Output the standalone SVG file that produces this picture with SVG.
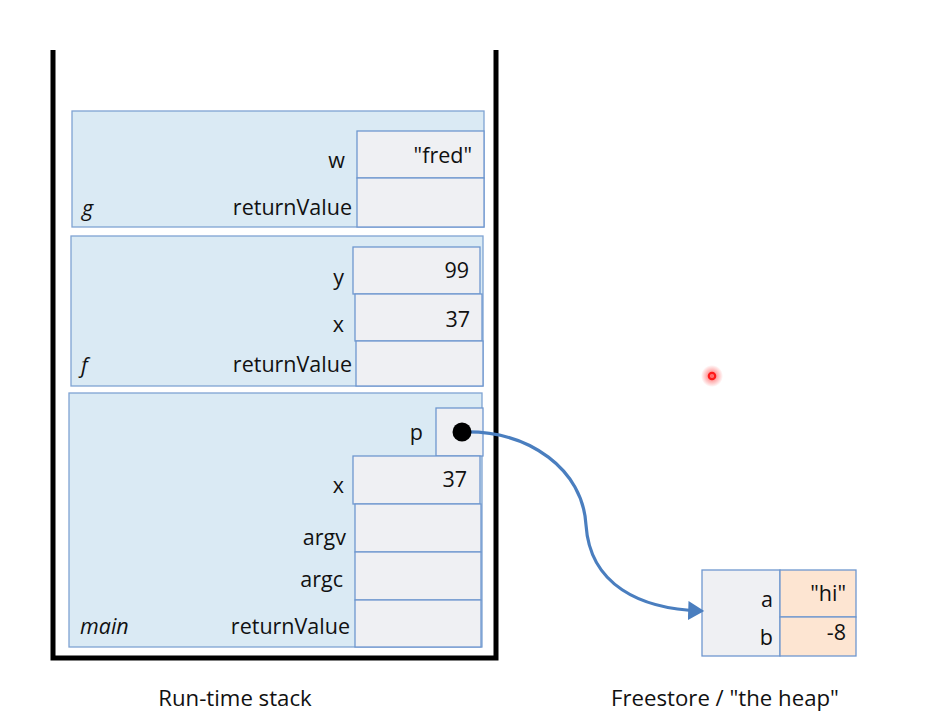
<svg xmlns="http://www.w3.org/2000/svg" width="948" height="727" viewBox="0 0 948 727">
<style>
.frame{fill:#daeaf4;stroke:#7fa3d3;stroke-width:1.3}
.cell{fill:#eff0f3;stroke:#6f97cf;stroke-width:1.3}
.hcell{fill:#fde5d2;stroke:#6f97cf;stroke-width:1.3}
text{font-family:"Open Sans","Liberation Sans",sans-serif;font-size:21.5px;fill:#111}
.r{text-anchor:end}
.i{font-style:italic}
.cap{font-size:22.2px;text-anchor:middle}
</style>
<defs>
<marker id="ah" markerWidth="6" markerHeight="6" refX="4" refY="3" orient="auto" markerUnits="strokeWidth">
<path d="M0,0 L5,3 L0,6 z" fill="#4a7ebf"/>
</marker>
<radialGradient id="glow">
<stop offset="0" stop-color="#ff2020" stop-opacity="0.7"/>
<stop offset="1" stop-color="#ff2020" stop-opacity="0"/>
</radialGradient>
</defs>
<rect width="948" height="727" fill="#ffffff"/>
<g id="stack">
<path d="M53,50 L53,658 L496,658 L496,50" fill="none" stroke="#000" stroke-width="5"/>
</g>
<g id="frame-g">
<rect class="frame" x="72" y="111" width="412" height="116"/>
<rect class="cell" x="357" y="131" width="127" height="47"/>
<rect class="cell" x="357" y="178" width="127" height="49"/>
<text class="r" x="345" y="168">w</text>
<text class="r" x="472" y="163">"fred"</text>
<text class="r" x="352" y="215">returnValue</text>
<text class="i" x="82" y="216">g</text>
</g>
<g id="frame-f">
<rect class="frame" x="71" y="236" width="412" height="150"/>
<rect class="cell" x="353" y="247" width="127" height="47"/>
<rect class="cell" x="355" y="294" width="127" height="47"/>
<rect class="cell" x="356" y="341" width="127" height="45"/>
<text class="r" x="344" y="285">y</text>
<text class="r" x="469" y="278">99</text>
<text class="r" x="344" y="332">x</text>
<text class="r" x="470" y="327">37</text>
<text class="r" x="352" y="372">returnValue</text>
<text class="i" x="81" y="373">f</text>
</g>
<g id="frame-main">
<rect class="frame" x="69" y="393" width="413" height="254"/>
<rect class="cell" x="436" y="408" width="47" height="48"/>
<rect class="cell" x="353" y="456" width="127" height="48"/>
<rect class="cell" x="355" y="504" width="126" height="48"/>
<rect class="cell" x="355" y="552" width="126" height="48"/>
<rect class="cell" x="355" y="600" width="126" height="47"/>
<text class="r" x="423" y="440">p</text>
<text class="r" x="344" y="493">x</text>
<text class="r" x="467" y="487">37</text>
<text class="r" x="346" y="545">argv</text>
<text class="r" x="343" y="587">argc</text>
<text class="r" x="350" y="634">returnValue</text>
<text class="i" x="80" y="634">main</text>
</g>
<g id="heap-obj">
<rect class="cell" x="702" y="570" width="78" height="86"/>
<rect class="hcell" x="780" y="570" width="76" height="47"/>
<rect class="hcell" x="780" y="617" width="76" height="39"/>
<text class="r" x="773" y="607">a</text>
<text class="r" x="773" y="645">b</text>
<text class="r" x="846" y="601">"hi"</text>
<text class="r" x="846" y="640">-8</text>
</g>
<g id="connectors">
<path d="M462,432 C530,430 583,470 586,525 C590,585 640,609 701,611" fill="none" stroke="#4a7ebf" stroke-width="3.2" marker-end="url(#ah)"/>
<circle cx="462" cy="432" r="9.5" fill="#000"/>
</g>
<g id="labels">
<text class="cap" x="235" y="706">Run-time stack</text>
<text class="cap" x="725" y="706">Freestore / "the heap"</text>
</g>
<g id="pointer">
<circle cx="712" cy="376" r="11" fill="url(#glow)"/>
<circle cx="712" cy="376" r="3.2" fill="none" stroke="#ff1a1a" stroke-width="2.2"/>
</g>
</svg>
